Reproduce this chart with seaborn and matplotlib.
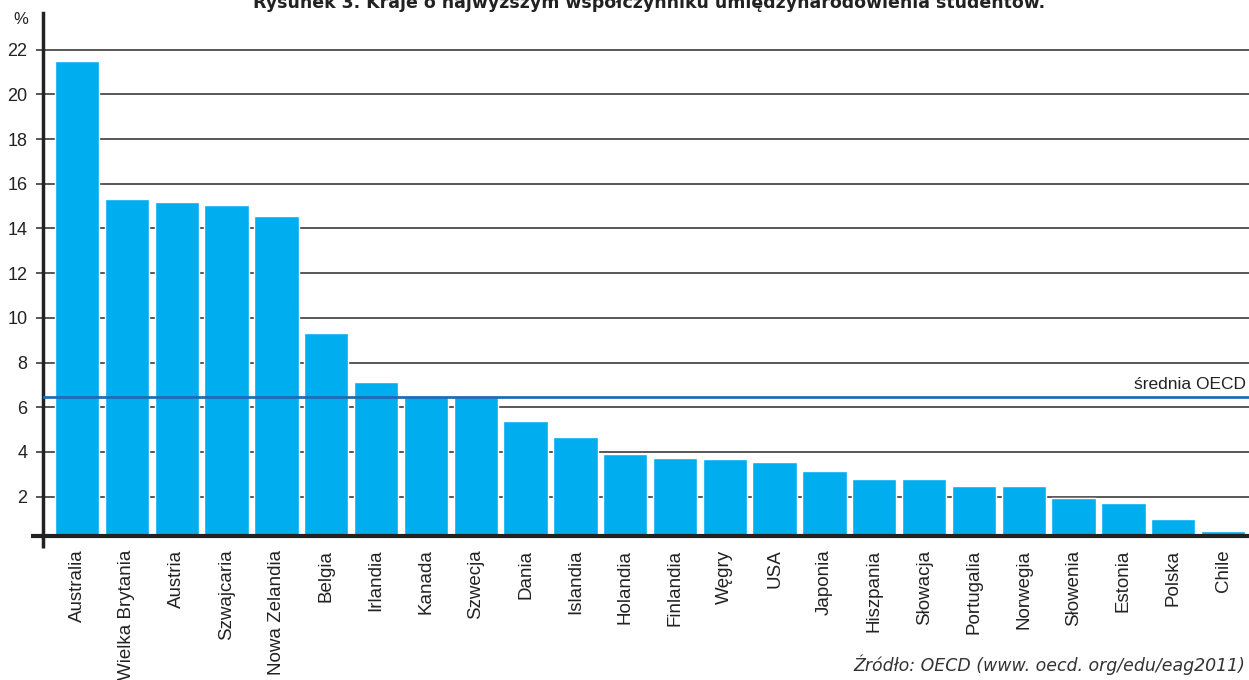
import matplotlib
matplotlib.use("Agg")
import matplotlib.pyplot as plt
import pandas as pd
import seaborn as sns

# Data
countries = ['Australia', 'Wielka Brytania', 'Austria', 'Szwajcaria', 'Nowa Zelandia',
             'Belgia', 'Irlandia', 'Kanada', 'Szwecja', 'Dania', 'Islandia', 'Holandia',
             'Finlandia', 'Węgry', 'USA', 'Japonia', 'Hiszpania', 'Słowacja', 'Portugalia',
             'Norwegia', 'Słowenia', 'Estonia', 'Polska', 'Chile']
values = [21.5, 15.3, 15.2, 15.05, 14.55, 9.3, 7.15, 6.5, 6.45, 5.4, 4.65, 3.9,
          3.72, 3.68, 3.55, 3.15, 2.78, 2.78, 2.48, 2.48, 1.95, 1.72, 1.0, 0.45]
yticks = [2, 4, 6, 8, 10, 12, 14, 16, 18, 20, 22]
oecd_mean = 6.47

title = 'Rysunek 3. Kraje o najwyższym współczynniku umiędzynarodowienia studentów.'
source = 'Źródło: OECD (www. oecd. org/edu/eag2011)'

df = pd.DataFrame({'kraj': countries, 'wartosc': values})

sns.set_style('white')
plt.rcParams['font.family'] = ['Liberation Sans', 'DejaVu Sans']

fig = plt.figure(figsize=(12.49, 6.8), dpi=100)
ax = fig.add_axes([0.0342, 0.2122, 0.9658, 0.7688])

# grid lines under the bars
for t in yticks:
    ax.axhline(t, color='#4a4a4a', lw=1.3, zorder=0)

sns.barplot(data=df, x='kraj', y='wartosc', color='#00adef', width=0.89,
            saturation=1, ax=ax, zorder=2)

ax.axhline(oecd_mean, color='#1f6db3', lw=2, zorder=3)
ax.text(23.45, oecd_mean + 0.2, 'średnia OECD', ha='right', va='bottom',
        fontsize=12.5, color='#222222')

ax.set_xlim(-0.69, 23.52)
ax.set_ylim(0.255, 23.64)
ax.set_yticks(yticks)
ax.set_xlabel('')
ax.set_ylabel('')

ax.tick_params(axis='y', labelsize=13, length=5, width=1.3, color='#4a4a4a',
               left=True, pad=6, labelcolor='#222222')
ax.tick_params(axis='x', labelsize=13.5, length=0, pad=10, labelrotation=90,
               labelcolor='#222222')

for s in ['top', 'right']:
    ax.spines[s].set_visible(False)
ax.spines['left'].set_color('#222222')
ax.spines['left'].set_linewidth(2.5)
ax.spines['bottom'].set_color('#222222')
ax.spines['bottom'].set_linewidth(3)

# small overhangs where the axes cross
ax.plot([0, 0], [0, -0.024], transform=ax.transAxes, color='#222222',
        lw=2.5, clip_on=False, solid_capstyle='butt')
ax.plot([-0.01, 0], [0, 0], transform=ax.transAxes, color='#222222',
        lw=3, clip_on=False, solid_capstyle='butt')

fig.text(0.0165, 0.972, '%', ha='center', va='center', fontsize=12, color='#222222')

fig.text(0.52, 0.988, title, ha='center', va='baseline', fontsize=12.5,
         fontweight='bold', color='#222222', family=['DejaVu Sans'])

fig.text(0.997, 0.022, source, ha='right', va='center', fontsize=12.5,
         style='italic', color='#333333', family=['DejaVu Sans'])

fig.savefig('out.png', dpi=100)
